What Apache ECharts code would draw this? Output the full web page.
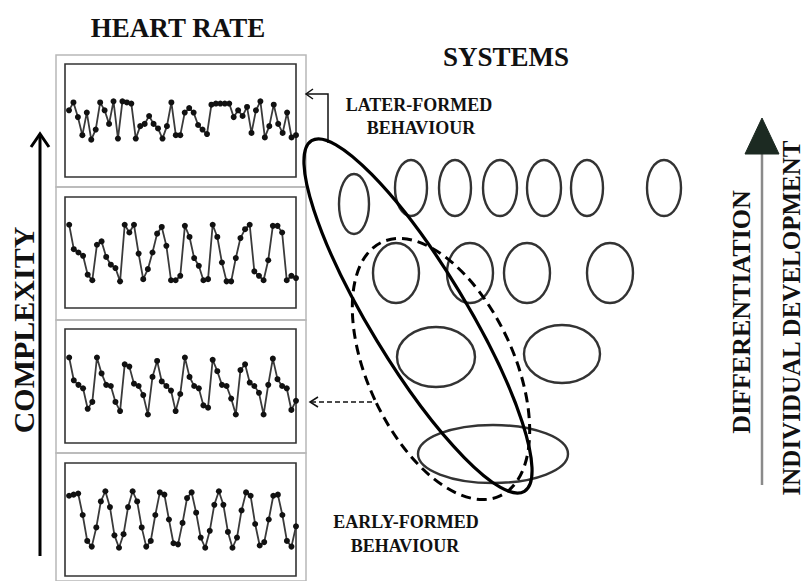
<!DOCTYPE html>
<html>
<head>
<meta charset="utf-8">
<script src="https://cdn.jsdelivr.net/npm/echarts@6/dist/echarts.min.js"></script>
<style>
  html, body { margin: 0; padding: 0; background: #fff; }
  #chart { width: 803px; height: 581px; }
</style>
</head>
<body>
<div id="chart"></div>
<script>
// heart rate traces, one per panel (top = most complex), height within panel 0..100
const hrPanel1 = [59, 66, 53, 37, 57, 33, 42, 66, 59, 47, 67, 34, 67, 66, 65, 34, 45, 47, 54, 47,
  43, 34, 45, 66, 37, 37, 57, 61, 57, 46, 42, 38, 64, 65, 65, 65, 65, 53, 59, 54,
  62, 39, 59, 67, 35, 45, 64, 47, 39, 57, 35, 37];
const hrPanel2 = [75, 53, 50, 47, 30, 25, 57, 60, 46, 39, 36, 24, 75, 68, 75, 49, 26, 35, 50, 67,
  73, 56, 25, 25, 29, 74, 64, 45, 38, 25, 26, 75, 64, 41, 24, 24, 45, 63, 71, 75,
  33, 29, 25, 43, 74, 74, 68, 25, 29, 27];
const hrPanel3 = [75, 55, 51, 48, 30, 36, 75, 61, 51, 50, 36, 28, 69, 67, 52, 50, 42, 25, 58, 72,
  54, 50, 46, 28, 43, 75, 58, 50, 48, 33, 31, 73, 63, 51, 50, 39, 25, 64, 69, 53,
  50, 44, 25, 51, 74, 56, 50, 48, 29, 37];
const hrPanel4 = [71, 72, 73, 54, 31, 26, 43, 66, 75, 61, 36, 25, 37, 61, 75, 66, 43, 26, 31, 54,
  74, 72, 50, 29, 28, 47, 69, 74, 56, 34, 25, 40, 63, 75, 63, 39, 25, 34, 58, 74,
  71, 46, 27, 30, 50, 71, 72, 54, 31, 26, 44];

const panels = [hrPanel1, hrPanel2, hrPanel3, hrPanel4];
const panelTops = [64, 197, 329, 463];
const panelHeights = [113, 111, 114, 113];

const serif = '"Liberation Serif", "DejaVu Serif", serif';

const chart = echarts.init(document.getElementById('chart'), null, { renderer: 'svg' });

const grids = panels.map((p, i) => ({
  left: 65, width: 231, top: panelTops[i], height: panelHeights[i],
  show: true, borderColor: '#333', borderWidth: 1.6, backgroundColor: '#fff'
}));
const xAxes = panels.map((p, i) => ({
  type: 'value', gridIndex: i, min: -0.9, max: p.length - 1, show: false
}));
const yAxes = panels.map((p, i) => ({
  type: 'value', gridIndex: i, min: 0, max: 100, show: false
}));
const series = panels.map((p, i) => ({
  type: 'line', xAxisIndex: i, yAxisIndex: i,
  data: p.map((v, k) => [k, v]),
  symbol: 'circle', symbolSize: 6,
  itemStyle: { color: '#111' },
  lineStyle: { color: '#3a3a3a', width: 1.8 }
}));

function label(text, x, y, size, rotation) {
  return {
    type: 'text', x: x, y: y, rotation: rotation || 0, z: 10,
    style: {
      text: text, font: 'bold ' + size + 'px ' + serif, fill: '#111',
      align: 'center', verticalAlign: 'middle',
      textAlign: 'center', textVerticalAlign: 'middle'
    }
  };
}
function oval(cx, cy, rx, ry) {
  return {
    type: 'ellipse', x: cx, y: cy, shape: { cx: 0, cy: 0, rx: rx, ry: ry },
    style: { fill: 'none', stroke: '#333', lineWidth: 2.4 }
  };
}
function frame(y1, y2) {
  return {
    type: 'rect', shape: { x: 56, y: y1, width: 250, height: y2 - y1 },
    style: { fill: 'none', stroke: '#b8b8b8', lineWidth: 1.5 }
  };
}
const line = (pts, extra) => Object.assign({
  type: 'polyline', shape: { points: pts }, z: 5,
  style: { fill: 'none', stroke: '#111', lineWidth: 1.5 }
}, extra || {});

const graphics = [
  frame(55, 187), frame(187, 320), frame(320, 453), frame(453, 581),
  label('HEART RATE', 178, 28, 27),
  label('SYSTEMS', 506, 57, 27),
  label('LATER-FORMED', 419, 105, 18),
  label('BEHAVIOUR', 421, 128, 18),
  label('EARLY-FORMED', 406, 522, 18),
  label('BEHAVIOUR', 405, 546, 18),
  label('COMPLEXITY', 23, 330, 30, Math.PI / 2),
  label('DIFFERENTIATION', 741, 312, 26, Math.PI / 2),
  label('INDIVIDUAL DEVELOPMENT', 791, 318, 25, Math.PI / 2),
  // systems, top row down to the base
  oval(354, 204, 15, 30), oval(411, 188, 16, 28), oval(455, 188, 16, 28),
  oval(500, 188, 17, 28), oval(544, 188, 17, 28), oval(587, 188, 16, 28),
  oval(664, 188, 17, 28),
  oval(396, 273, 23, 30), oval(470, 273, 23, 30), oval(527, 273, 23, 30),
  oval(610, 273, 23, 30),
  oval(436, 357, 39, 30), oval(562, 354, 38, 29),
  oval(493, 454, 75, 29),
  // later-formed (solid) and early-formed (dashed) groupings
  {
    type: 'ellipse', x: 418, y: 316, rotation: 0.546, z: 6,
    shape: { cx: 0, cy: 0, rx: 48, ry: 205 },
    style: { fill: 'none', stroke: '#000', lineWidth: 3.2 }
  },
  {
    type: 'ellipse', x: 441, y: 369, rotation: 0.436, z: 6,
    shape: { cx: 0, cy: 0, rx: 73, ry: 140 },
    style: { fill: 'none', stroke: '#000', lineWidth: 3, lineDash: [10, 6] }
  },
  // arrows
  line([[40, 556], [40, 134]], { style: { fill: 'none', stroke: '#000', lineWidth: 3 } }),
  line([[31, 147], [40, 134], [49, 147]], { style: { fill: 'none', stroke: '#000', lineWidth: 3 } }),
  line([[328, 143], [328, 94], [306, 94]]),
  line([[313, 89], [306, 94], [313, 99]]),
  line([[372, 402], [311, 402]], { style: { fill: 'none', stroke: '#111', lineWidth: 1.6, lineDash: [5, 3] } }),
  line([[318, 397], [310, 402], [318, 407]]),
  line([[762, 485], [762, 150]], { style: { fill: 'none', stroke: '#8a8a8a', lineWidth: 2.5 } }),
  {
    type: 'polygon', z: 6, shape: { points: [[745, 154], [762, 118], [779, 154]] },
    style: { fill: '#1c2a22', stroke: '#1c2a22', lineWidth: 1 }
  }
];

chart.setOption({
  animation: false,
  backgroundColor: '#fff',
  grid: grids,
  xAxis: xAxes,
  yAxis: yAxes,
  series: series,
  graphic: graphics
});
</script>
</body>
</html>
